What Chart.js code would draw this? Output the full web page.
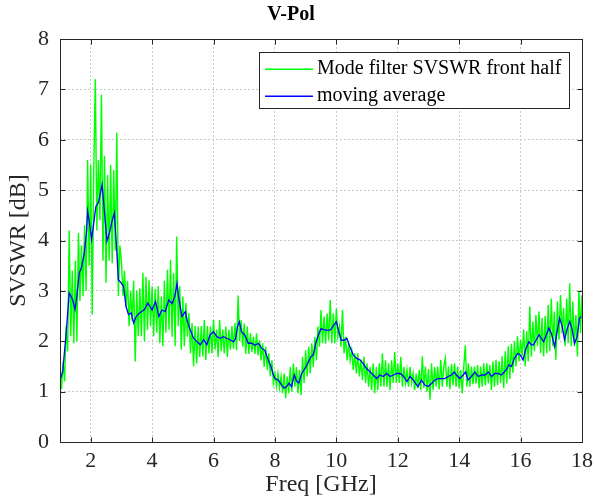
<!DOCTYPE html>
<html>
<head>
<meta charset="utf-8">
<script src="https://cdn.jsdelivr.net/npm/chart.js@4"></script>
<style>
html, body { margin: 0; padding: 0; background: #fff; }
canvas { display: block; }
</style>
</head>
<body>
<canvas id="chart" width="594" height="504"></canvas>
<script>
// Raw SVSWR trace, sampled every 0.05 GHz from 1 GHz
const rawStart = 1;
const rawStep = 0.05;
const rawVal = [
  1.5, 1.05, 1.6, 1.2, 2.3, 1.8, 4.2, 2.1, 3.4, 1.96, 3.6, 2.0, 4.15, 2.8, 3.9, 2.9, 4.3, 3.0, 5.6, 3.5,
  5.5, 2.53, 5.4, 7.2, 4.2, 5.6, 4.4, 6.9, 3.6, 5.68, 3.16, 5.3, 3.6, 5.5, 3.55, 5.4, 3.8, 6.14, 2.9, 3.9,
  3.6, 2.9, 3.4, 2.7, 3.2, 2.3, 3.0, 2.4, 3.2, 1.6, 3.0, 2.1, 3.05, 2.1, 3.36, 2.0, 3.28, 2.23, 3.21, 2.3,
  3.09, 2.1, 3.03, 2.17, 3.09, 1.96, 2.89, 1.9, 3.2, 2.17, 3.42, 2.23, 3.62, 2.09, 3.35, 1.9, 4.08, 2.3, 3.09, 1.83,
  2.89, 1.9, 2.76, 2.09, 2.56, 1.76, 2.36, 1.5, 2.3, 1.56, 2.29, 1.69, 2.3, 1.7, 2.42, 1.63, 2.3, 1.76, 2.29, 1.76,
  2.42, 1.83, 2.23, 1.69, 2.42, 1.8, 2.23, 1.76, 2.29, 1.69, 2.23, 1.83, 2.3, 1.85, 2.36, 1.82, 2.91, 2.0, 2.42, 1.89,
  2.35, 1.75, 2.29, 1.75, 2.16, 1.79, 2.09, 1.75, 2.16, 1.72, 2.02, 1.62, 1.96, 1.49, 1.89, 1.43, 1.76, 1.3, 1.62, 1.17,
  1.36, 1.1, 1.36, 1.07, 1.3, 0.97, 1.36, 0.87, 1.3, 0.97, 1.49, 1.0, 1.56, 1.1, 1.49, 0.97, 1.43, 0.93, 1.69, 1.17,
  1.82, 1.3, 1.89, 1.36, 1.96, 1.49, 2.09, 1.62, 2.29, 1.89, 2.62, 1.96, 2.49, 1.95, 2.55, 2.02, 2.82, 1.96, 2.55, 1.96,
  2.65, 2.09, 2.29, 1.89, 2.62, 1.76, 2.09, 1.62, 1.96, 1.62, 1.82, 1.43, 1.76, 1.36, 1.76, 1.3, 1.62, 1.23, 1.69, 1.17,
  1.56, 1.1, 1.49, 1.03, 1.56, 0.97, 1.49, 1.03, 1.56, 1.1, 1.76, 1.1, 1.62, 1.1, 1.56, 1.03, 1.62, 1.17, 1.79, 1.17,
  1.56, 1.17, 1.69, 1.1, 1.49, 1.17, 1.43, 1.1, 1.49, 1.17, 1.36, 1.03, 1.36, 1.07, 1.43, 1.03, 1.7, 1.07, 1.5, 1.0,
  1.45, 0.84, 1.56, 1.03, 1.49, 1.1, 1.5, 1.05, 1.63, 1.1, 1.5, 1.66, 1.1, 1.5, 1.05, 1.55, 1.13, 1.56, 1.1, 1.5,
  1.07, 1.43, 0.97, 1.5, 1.92, 1.1, 1.56, 1.1, 1.5, 1.15, 1.5, 1.16, 1.53, 1.07, 1.5, 1.1, 1.56, 1.13, 1.56, 1.16,
  1.53, 1.03, 1.6, 1.1, 1.63, 1.13, 1.6, 1.17, 1.7, 1.07, 1.8, 1.16, 1.9, 1.25, 1.95, 1.37, 2.0, 1.5, 2.1, 1.6,
  2.03, 1.7, 2.23, 1.5, 2.2, 1.6, 2.69, 1.7, 2.39, 1.8, 2.52, 1.9, 2.59, 1.76, 2.46, 1.7, 2.5, 1.76, 2.72, 1.8,
  2.85, 1.9, 2.59, 1.63, 2.79, 2.03, 2.92, 2.16, 2.66, 1.9, 2.85, 1.96, 3.15, 1.9, 2.79, 1.9, 2.52, 1.7, 3.0, 2.16, 2.92
];

// Moving average of the trace
const avgFreq = [
  1.0, 1.09, 1.2, 1.3, 1.41, 1.49, 1.55, 1.63, 1.7, 1.79, 1.86, 1.9, 1.96, 2.03, 2.1, 2.17, 2.25, 2.32, 2.37, 2.45,
  2.53, 2.61, 2.68, 2.77, 2.84, 2.9, 2.99, 3.07, 3.15, 3.23, 3.32, 3.4, 3.48, 3.59, 3.66, 3.75, 3.86, 4.0, 4.11, 4.22,
  4.32, 4.43, 4.54, 4.65, 4.74, 4.81, 4.86, 4.97, 5.08, 5.14, 5.24, 5.35, 5.46, 5.57, 5.68, 5.78, 5.89, 6.0, 6.11, 6.22,
  6.32, 6.43, 6.54, 6.65, 6.72, 6.78, 6.84, 6.91, 7.02, 7.13, 7.24, 7.35, 7.46, 7.57, 7.67, 7.78, 7.87, 7.95, 8.0, 8.11,
  8.22, 8.3, 8.38, 8.46, 8.54, 8.63, 8.71, 8.78, 8.87, 8.98, 9.09, 9.17, 9.25, 9.33, 9.41, 9.5, 9.58, 9.68, 9.79, 9.84,
  9.95, 10.0, 10.08, 10.16, 10.25, 10.34, 10.44, 10.55, 10.66, 10.77, 10.87, 10.98, 11.09, 11.2, 11.31, 11.42, 11.53, 11.64, 11.75, 11.86,
  11.97, 12.08, 12.19, 12.3, 12.4, 12.51, 12.62, 12.66, 12.77, 12.88, 12.99, 13.1, 13.21, 13.32, 13.42, 13.53, 13.64, 13.75, 13.84, 13.91,
  14.02, 14.13, 14.21, 14.29, 14.4, 14.51, 14.62, 14.73, 14.84, 14.95, 15.05, 15.16, 15.27, 15.38, 15.53, 15.62, 15.7, 15.8, 15.91, 15.99,
  16.08, 16.16, 16.27, 16.35, 16.42, 16.51, 16.6, 16.67, 16.75, 16.84, 16.92, 17.0, 17.11, 17.18, 17.27, 17.36, 17.43, 17.51, 17.6, 17.68,
  17.76, 17.84, 17.92, 17.98
];
const avgVal = [
  1.23, 1.4, 2.16, 2.96, 2.83, 2.63, 2.9, 3.36, 3.46, 3.75, 4.15, 4.58, 4.35, 4.02, 4.35, 4.68, 4.75, 4.95, 5.11, 4.55,
  3.99, 4.15, 4.35, 4.55, 3.89, 3.22, 3.16, 3.09, 2.69, 2.53, 2.56, 2.36, 2.49, 2.56, 2.59, 2.63, 2.76, 2.62, 2.79, 2.49,
  2.62, 2.59, 2.82, 2.75, 2.89, 3.15, 2.89, 2.49, 2.59, 2.42, 2.23, 2.06, 1.99, 1.93, 2.03, 1.93, 2.13, 2.19, 2.09, 2.06,
  2.09, 2.06, 2.03, 1.99, 2.06, 2.29, 2.39, 2.19, 2.12, 1.96, 1.96, 1.92, 1.96, 1.86, 1.82, 1.63, 1.5, 1.33, 1.26, 1.23,
  1.13, 1.07, 1.1, 1.17, 1.1, 1.33, 1.2, 1.17, 1.36, 1.46, 1.59, 1.69, 1.73, 1.96, 2.12, 2.25, 2.23, 2.22, 2.22, 2.25,
  2.35, 2.39, 2.19, 2.02, 2.02, 2.06, 1.89, 1.73, 1.66, 1.63, 1.56, 1.46, 1.4, 1.33, 1.26, 1.33, 1.3, 1.36, 1.3, 1.33,
  1.36, 1.36, 1.3, 1.2, 1.3, 1.23, 1.13, 1.1, 1.23, 1.13, 1.1, 1.16, 1.23, 1.26, 1.26, 1.26, 1.3, 1.33, 1.39, 1.33,
  1.26, 1.33, 1.39, 1.23, 1.3, 1.39, 1.3, 1.33, 1.33, 1.39, 1.3, 1.36, 1.36, 1.33, 1.43, 1.53, 1.5, 1.66, 1.76, 1.73,
  1.63, 1.83, 1.99, 1.93, 1.93, 2.03, 2.13, 2.06, 1.99, 2.13, 2.26, 2.16, 1.89, 2.16, 2.46, 2.29, 2.03, 2.23, 2.39, 2.23,
  1.96, 2.09, 2.46, 2.49
];

const xTicks = [2, 4, 6, 8, 10, 12, 14, 16, 18];
const yTicks = [0, 1, 2, 3, 4, 5, 6, 7, 8];

const serif = "'Liberation Serif', 'Times New Roman', serif";
const axisColor = "#262626";
const rawColor = "#00ff00";
const avgColor = "#0000ff";

const rawPoints = rawVal.map((v, i) => ({x: rawStart + i * rawStep, y: v}));
const avgPoints = avgFreq.map((f, i) => ({x: f, y: avgVal[i]}));

// box around the axes, inward tick marks and the legend
const framePlugin = {
  id: "frame",
  afterDraw(chart) {
    const {ctx, chartArea: a, scales} = chart;
    const l = Math.round(a.left) + 0.5;
    const r = Math.round(a.right) + 0.5;
    const t = Math.round(a.top) + 0.5;
    const b = Math.round(a.bottom) + 0.5;
    ctx.save();
    ctx.setLineDash([]);
    ctx.strokeStyle = axisColor;
    ctx.lineWidth = 1;
    ctx.beginPath();
    for (const v of xTicks) {
      const x = Math.round(scales.x.getPixelForValue(v)) + 0.5;
      ctx.moveTo(x, b); ctx.lineTo(x, b - 5);
      ctx.moveTo(x, t); ctx.lineTo(x, t + 5);
    }
    for (const v of yTicks) {
      const y = Math.round(scales.y.getPixelForValue(v)) + 0.5;
      ctx.moveTo(l, y); ctx.lineTo(l + 5, y);
      ctx.moveTo(r, y); ctx.lineTo(r - 5, y);
    }
    ctx.stroke();
    ctx.strokeRect(l, t, r - l, b - t);

    // legend
    const lx = 259.5, ly = 52.5, lw = 310, lh = 56;
    ctx.fillStyle = "#fff";
    ctx.fillRect(lx, ly, lw, lh);
    ctx.strokeStyle = axisColor;
    ctx.strokeRect(lx, ly, lw, lh);
    const rows = [
      {label: chart.data.datasets[1].label, color: rawColor, y: 69},
      {label: chart.data.datasets[0].label, color: avgColor, y: 96},
    ];
    ctx.font = "20px " + serif;
    ctx.textBaseline = "middle";
    ctx.textAlign = "left";
    for (const row of rows) {
      ctx.fillStyle = row.color;
      ctx.fillRect(265, row.y - 0.5, 48, 1.5);
      ctx.fillStyle = "#000";
      ctx.fillText(row.label, 317, row.y);
    }
    ctx.restore();
  },
};

new Chart(document.querySelector("#chart"), {
  type: "line",
  data: {
    datasets: [
      {
        label: "moving average",
        data: avgPoints,
        borderColor: avgColor,
        borderWidth: 1.3,
        order: 0,
      },
      {
        label: "Mode filter SVSWR front half",
        data: rawPoints,
        borderColor: rawColor,
        borderWidth: 1.4,
        order: 1,
      },
    ],
  },
  options: {
    responsive: false,
    devicePixelRatio: 1,
    animation: false,
    events: [],
    elements: {
      point: {radius: 0},
      line: {tension: 0},
    },
    layout: {padding: {left: 0, right: 12, top: 0, bottom: 0}},
    plugins: {
      legend: {display: false},
      tooltip: {enabled: false},
      title: {
        display: true,
        text: "V-Pol",
        color: "#000",
        font: {family: serif, size: 20, weight: "bold"},
        padding: {top: 3, bottom: 12},
      },
    },
    scales: {
      x: {
        type: "linear",
        min: 1,
        max: 18,
        afterBuildTicks(scale) {
          scale.ticks = xTicks.map((v) => ({value: v}));
        },
        afterFit(scale) {
          scale.height = 62;
          scale.paddingLeft = 0;
          scale.paddingRight = 0;
        },
        ticks: {
          color: axisColor,
          font: {family: serif, size: 22},
          padding: 6,
          maxRotation: 0,
        },
        grid: {color: "#c8c8c8", drawTicks: false},
        border: {display: false, dash: [2, 2]},
        title: {
          display: true,
          text: "Freq [GHz]",
          color: axisColor,
          font: {family: serif, size: 24},
          padding: {top: 0, bottom: 5},
        },
      },
      y: {
        type: "linear",
        min: 0,
        max: 8,
        afterBuildTicks(scale) {
          scale.ticks = yTicks.map((v) => ({value: v}));
        },
        afterFit(scale) {
          scale.width = 60;
        },
        ticks: {
          color: axisColor,
          font: {family: serif, size: 22},
          padding: 11,
        },
        grid: {color: "#c8c8c8", drawTicks: false},
        border: {display: false, dash: [2, 2]},
        title: {
          display: true,
          text: "SVSWR [dB]",
          color: axisColor,
          font: {family: serif, size: 24},
          padding: {top: 4, bottom: 0},
        },
      },
    },
  },
  plugins: [framePlugin],
});
</script>
</body>
</html>
